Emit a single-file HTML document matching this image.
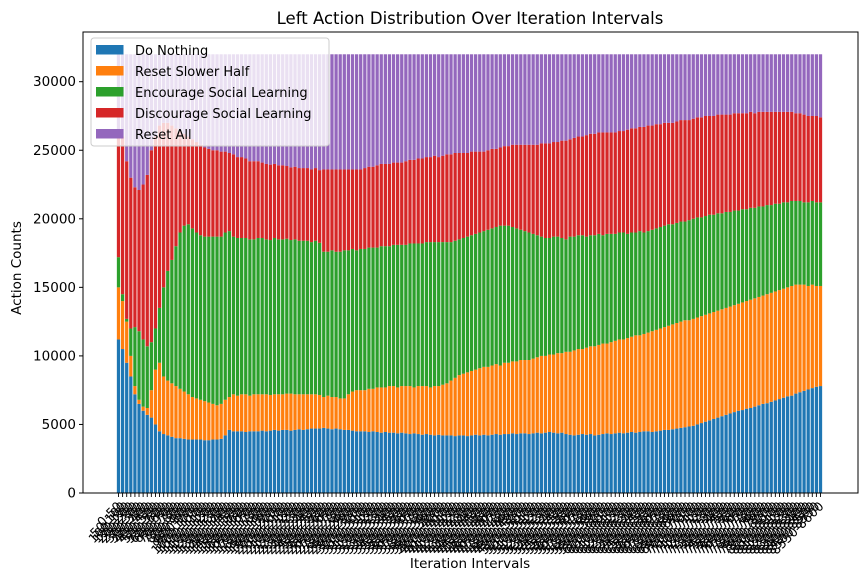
<!DOCTYPE html>
<html><head><meta charset="utf-8"><style>
body{margin:0;background:#fff;font-family:"Liberation Sans","DejaVu Sans",sans-serif}
svg text{font-family:"DejaVu Sans","Liberation Sans",sans-serif}
</style></head><body>
<svg id="chart" width="868" height="580" xmlns="http://www.w3.org/2000/svg">
<rect width="868" height="580" fill="#fff"/>
<text x="470" y="24" text-anchor="middle" font-size="16.5">Left Action Distribution Over Iteration Intervals</text>
<g id="bars"></g>
<g id="axes"></g>
<text x="470" y="568" text-anchor="middle" font-size="13.5">Iteration Intervals</text>
<text transform="translate(21,268) rotate(-90)" text-anchor="middle" font-size="13.5">Action Counts</text>
<g id="legend"></g>
</svg>
<script>
const doNothing=[11200,10500,9500,8500,7200,6500,6000,5700,5500,5000,
4500,4300,4200,4100,4000,4000,3950,3900,3900,3900,
3900,3850,3850,3900,3900,3950,4200,4600,4500,4500,
4500,4450,4500,4500,4500,4550,4500,4550,4600,4550,
4600,4600,4550,4600,4650,4600,4650,4700,4700,4700,
4750,4700,4650,4700,4650,4600,4600,4550,4500,4500,
4500,4450,4500,4450,4400,4450,4400,4400,4350,4400,
4350,4300,4350,4300,4250,4300,4250,4200,4250,4200,
4200,4200,4150,4200,4200,4150,4200,4250,4200,4250,
4200,4250,4300,4250,4300,4300,4350,4300,4350,4350,
4300,4350,4400,4350,4400,4450,4400,4350,4400,4300,
4250,4200,4250,4300,4250,4300,4200,4250,4300,4350,
4300,4350,4400,4350,4400,4450,4400,4450,4500,4500,
4450,4500,4550,4600,4600,4650,4700,4750,4800,4850,
4900,5000,5100,5200,5300,5400,5500,5600,5700,5800,
5900,6000,6050,6150,6200,6300,6400,6500,6550,6650,
6750,6850,6950,7050,7100,7250,7350,7450,7550,7650,
7750,7800];
const resetSlowerHalf=[3800,3500,3000,1500,600,300,300,500,2000,4000,
5000,4200,4000,3900,3800,3600,3450,3300,3100,3000,
2900,2850,2750,2600,2500,2550,2600,2400,
2700,2600,2700,2750,2600,2700,2700,2650,2700,2600,2600,2650,2600,2650,2700,2600,2550,2600,2550,2500,2500,2450,
2250,2400,2350,2300,2250,2300,2600,2850,3000,3000,
3000,3150,3100,3250,3300,3250,3400,3400,3350,3400,
3450,3500,3350,3500,3550,3500,3450,3600,3550,3700,
3800,4000,4250,4400,4500,4650,4700,4750,4900,4950,
5000,5050,5100,5050,5200,5200,5250,5300,5350,5350,
5400,5450,5500,5650,5600,5650,5700,5850,5800,6000,
6050,6200,6250,6200,6350,6400,6500,6550,6600,6550,
6700,6750,6800,6850,6900,6950,7100,7050,7100,7200,
7350,7400,7450,7500,7600,7650,7700,7750,7800,7750,
7800,7800,7800,7800,7800,7800,7800,7800,7800,7800,
7800,7800,7850,7850,7900,7900,7900,7900,7950,7950,
7950,7950,7950,7950,8000,7950,7850,7750,7550,7550,
7350,7300];
const encourageSocial=[2200,500,200,2000,4300,5000,4900,4500,3500,3000,
4000,6500,8000,9000,10200,11400,12100,12400,12300,12100,
12000,12000,12100,12200,12300,12200,12200,12100,
11500,11500,11400,11400,11400,11300,11400,11400,11300,11300,11400,11300,11300,11300,11200,11300,11200,11200,11200,11100,11200,11100,
10600,10500,10700,10600,10700,10800,10500,10400,10200,10300,
10300,10300,10300,10200,10300,10300,10200,10300,10400,10300,
10300,10400,10500,10400,10400,10500,10600,10500,10500,10400,
10300,10100,10000,9900,9900,9900,9900,9900,9900,9900,
10000,10000,10000,10200,10000,10000,9800,9700,9500,9400,
9300,9100,8900,8700,8600,8500,8600,8500,8400,8200,
8400,8300,8300,8300,8100,8100,8100,8100,7900,8000,
7900,7800,7800,7800,7600,7600,7500,7600,7400,7400,
7400,7400,7400,7400,7400,7300,7300,7300,7200,7300,
7300,7300,7200,7200,7200,7100,7100,7000,7000,6900,
6900,6800,6800,6700,6700,6600,6600,6500,6500,6400,
6400,6300,6300,6200,6200,6100,6100,6000,6100,6100,
6100,6100];
const discourageSocial=[8800,11500,11500,11000,10200,10300,11300,12500,14000,14000,
13300,12000,10800,9800,8600,7400,6700,6400,6500,6600,6600,
6500,6400,6300,6300,6200,5900,5700,
6000,5900,5900,5800,5700,5700,5600,5500,5500,5500,5400,5400,5400,5300,5300,5300,5300,5300,5300,5300,5300,5300,
6000,6000,5900,6000,6000,5900,5900,5800,5900,5800,
5900,5900,5900,6000,6000,6000,6000,6000,6000,6000,
6100,6100,6100,6200,6200,6200,6200,6300,6200,6300,
6400,6400,6400,6300,6200,6100,6100,6000,5900,5800,
5800,5800,5700,5700,5800,5800,6000,6100,6200,6300,
6400,6500,6600,6800,6900,6900,6900,6900,7100,7200,
7100,7200,7200,7200,7400,7400,7400,7400,7500,7400,
7400,7400,7400,7400,7600,7600,7600,7600,7700,7700,
7600,7600,7500,7500,7400,7400,7400,7400,7400,7300,
7300,7300,7300,7300,7200,7200,7200,7200,7100,7100,
7100,7100,7000,7000,7000,6900,6900,6900,6800,6800,
6700,6700,6600,6600,6500,6400,6400,6400,6300,6200,
6300,6200];
const barTotal=32000;
const yTicks=[0,5000,10000,15000,20000,25000,30000];
const seriesNames=["Do Nothing","Reset Slower Half","Encourage Social Learning","Discourage Social Learning","Reset All"];
const colors=["#1f77b4","#ff7f0e","#2ca02c","#d62728","#9467bd"];

const NS="http://www.w3.org/2000/svg";
const N=doNothing.length;
const L=83,R=858,T=32,B=493;
const xStart=118.5,xEnd=820.5;
const step=(xEnd-xStart)/(N-1);
const xPos=i=>xStart+i*step;
const yPos=v=>B-v*(B-81.7)/30000;
function mk(t,a,p){const e=document.createElementNS(NS,t);for(const k in a)e.setAttribute(k,a[k]);(p||document.getElementById('chart')).appendChild(e);return e;}
const bars=document.getElementById('bars');
const series=[doNothing,resetSlowerHalf,encourageSocial,discourageSocial];
const bw=step*0.8;
for(let i=0;i<N;i++){
  let base=0;
  const vals=series.map(s=>s[i]||0);
  const rest=barTotal-vals.reduce((a,b)=>a+b,0);
  vals.push(Math.max(0,rest));
  vals.forEach((v,k)=>{
    const r=mk('rect',{x:xPos(i)-bw/2,y:yPos(base+v),width:bw,height:yPos(base)-yPos(base+v),fill:colors[k]},bars);
    
    
    base+=v;
  });
}
const ax=document.getElementById('axes');
const frame=mk('rect',{x:L,y:T,width:R-L,height:B-T,fill:'none',stroke:'#000','stroke-width':1},ax);


yTicks.forEach(v=>{
  const y=yPos(v);
  const tk=mk('line',{x1:L-4,x2:L,y1:y,y2:y,stroke:'#000'},ax);
  
  
  const t=mk('text',{x:L-7,y:y+4.5,'text-anchor':'end','font-size':13.5},ax);
  
  
  t.textContent=v;
});
for(let i=0;i<N;i++){
  const x=xPos(i);
  const tk=mk('line',{x1:x,x2:x,y1:B,y2:B+4,stroke:'#000','stroke-width':0.9},ax);
  
  
  const t=mk('text',{transform:`translate(${x+4},${B+14}) rotate(-45)`,'text-anchor':'end','font-size':12.5},ax);
  
  
  t.textContent=(i*50)+'-'+((i+1)*50);
}
const lg=document.getElementById('legend');
const box=mk('rect',{x:91,y:38,width:238,height:108,rx:3,fill:'#fff','fill-opacity':0.8,stroke:'#ccc'},lg);


seriesNames.forEach((n,k)=>{
  const y=45+k*21;
  const sw=mk('rect',{x:96,y:y,width:27.5,height:9.5,fill:colors[k]},lg);
  
  
  const t=mk('text',{x:135,y:y+10,'font-size':13},lg);
  
  
  t.textContent=n;
});
</script>
</body></html>
